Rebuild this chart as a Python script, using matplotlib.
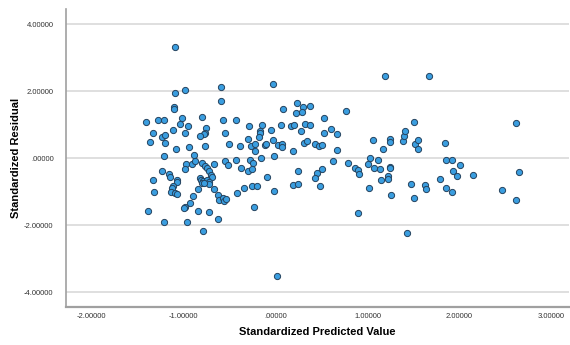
import numpy as np
import matplotlib
matplotlib.use("Agg")
from matplotlib import pyplot as plt

# standardized predicted value (x) and standardized residual (y)
pred = [-1.10, -1.095, -0.985, -1.105, -1.105, -1.41, -1.28, -1.21, -1.015, -1.04,
        -0.95, -1.12, -1.33, -0.99, -1.235, -1.205, -1.37, -1.20, -1.08, -0.94,
        -1.21, -0.98, -0.99, -1.24, -1.16, -1.15, -1.33, -1.07, -1.07, -1.115,
        -1.13, -1.32, -1.135, -1.095, -1.07, -0.935, -0.99, -1.00, -1.39, -1.21,
        -0.96,
        -0.60, -0.03, -0.60, -0.80, -0.575, -0.43, 0.08, 0.235, 0.30, 0.37,
        0.217, 0.283, -0.755, -0.77, -0.776, -0.82, -0.555, -0.287, -0.149, -0.054,
        0.054, 0.17, 0.20, 0.32, 0.37, -0.17, -0.17, -0.305, -0.18, -0.026,
        0.278, -0.51, -0.39, -0.265, -0.22, -0.23, -0.113, -0.105, 0.02, 0.068,
        0.068, 0.19, 0.31, 0.34, -0.765, -0.89, -0.156, -0.018, -0.905, -0.877,
        -0.80, -0.765, -0.67, -0.55, -0.515, -0.43, -0.276, -0.247, -0.374, -0.75,
        -0.73, -0.707, -0.69, -0.30, -0.26, -0.09, 0.245, -0.826, -0.81, -0.79,
        -0.80, -0.75, -0.73, -0.72, -0.78, -0.667, -0.624, -0.613, -0.576, -0.565,
        -0.543, -0.845, -0.90, -0.84, -0.72, -0.63, -0.795, -0.42, -0.35, -0.254,
        -0.207, -0.236, -0.018, 0.185, 0.245, 0.01,
        1.185, 1.663, 0.77, 0.53, 0.60, 0.53, 0.67, 0.424, 0.467, 0.50,
        0.67, 1.06, 1.17, 1.245, 1.24, 1.39, 1.395, 1.41, 1.50, 1.52,
        1.55, 1.55, 0.626, 0.786, 1.03, 1.007, 1.11, 0.86, 0.895, 1.07,
        1.14, 1.24, 1.24, 0.50, 0.91, 1.22, 1.22, 1.145, 0.452, 0.427,
        0.485, 1.014, 1.253, 1.474, 1.51, 1.62, 1.64, 0.898, 1.43,
        2.61, 1.84, 1.85, 1.92, 2.01, 1.93, 1.97, 2.15, 1.79, 1.85,
        1.92, 2.46, 2.65, 2.615]
resid = [3.31, 1.96, 2.03, 1.52, 1.46, 1.08, 1.15, 1.15, 1.20, 1.02,
         0.96, 0.86, 0.755, 0.76, 0.64, 0.69, 0.48, 0.45, 0.28, 0.34,
         0.08, -0.17, -0.32, -0.39, -0.48, -0.55, -0.66, -0.64, -0.70, -0.82,
         -0.88, -1.01, -1.01, -1.04, -1.06, -1.33, -1.44, -1.48, -1.57, -1.91,
         -1.91,
         2.14, 2.21, 1.70, 1.23, 1.13, 1.13, 1.47, 1.64, 1.54, 1.57,
         1.36, 1.37, 0.91, 0.755, 0.72, 0.665, 0.745, 0.97, 1.00, 0.855,
         1.00, 0.97, 1.01, 1.04, 1.00, 0.815, 0.765, 0.585, 0.645, 0.55,
         0.815, 0.42, 0.36, 0.375, 0.43, 0.22, 0.39, 0.435, 0.39, 0.42,
         0.34, 0.22, 0.46, 0.51, 0.36, 0.10, 0.01, 0.08, -0.18, -0.08,
         -0.13, -0.22, -0.18, -0.09, -0.21, -0.06, -0.05, -0.15, -0.30, -0.30,
         -0.38, -0.49, -0.57, -0.37, -0.33, -0.55, -0.38, -0.58, -0.66, -0.67,
         -0.75, -0.65, -0.71, -0.78, -0.73, -0.92, -1.10, -1.24, -1.19, -1.27,
         -1.21, -0.93, -1.13, -1.58, -1.59, -1.82, -2.16, -1.04, -0.88, -0.84,
         -0.82, -1.46, -0.98, -0.79, -0.77, -3.51,
         2.47, 2.47, 1.40, 1.20, 0.88, 0.755, 0.725, 0.435, 0.375, 0.39,
         0.24, 0.555, 0.27, 0.585, 0.50, 0.52, 0.665, 0.82, 1.09, 0.43,
         0.55, 0.28, -0.08, -0.13, 0.02, -0.17, -0.04, -0.30, -0.34, -0.29,
         -0.31, -0.25, -0.28, -0.31, -0.47, -0.53, -0.61, -0.64, -0.43, -0.60,
         -0.84, -0.89, -1.10, -0.77, -1.18, -0.80, -0.92, -1.62, -2.24,
         1.05, 0.45, -0.05, -0.06, -0.20, -0.39, -0.53, -0.51, -0.61, -0.89,
         -1.00, -0.94, -0.42, -1.25]

xticks = [-2, -1, 0, 1, 2, 3]
yticks = [-4, -2, 0, 2, 4]

plt.rcParams['font.family'] = ['Liberation Sans', 'DejaVu Sans']

fig = plt.figure(figsize=(5.7, 3.45), dpi=100)
ax = fig.add_axes([0.116, 0.110, 0.882, 0.864])

ax.set_axisbelow(True)
ax.grid(axis='y', color='#d9d9d9', linewidth=1.2)
ax.scatter(pred, resid, s=20, color='#3a9ee0', edgecolors='#24425e', linewidths=0.7, zorder=3)

ax.set_xlim(-2.28, 3.19)
ax.set_ylim(-4.44, 4.46)
ax.set_xticks(xticks)
ax.set_xticklabels(['%.5f' % v if v != 0 else '.00000' for v in xticks])
ax.set_yticks(yticks)
ax.set_yticklabels(['%.5f' % v if v != 0 else '.00000' for v in yticks])
ax.tick_params(length=0, labelsize=5.5, labelcolor='#333333')
ax.tick_params(axis='x', pad=4)
ax.tick_params(axis='y', pad=9)

for s in ('top', 'right'):
    ax.spines[s].set_visible(False)
ax.spines['left'].set_color('#a0a0a0')
ax.spines['left'].set_linewidth(1.2)
ax.spines['bottom'].set_color('#a0a0a0')
ax.spines['bottom'].set_linewidth(1.6)

ax.set_xlabel('Standardized Predicted Value', fontsize=8, fontweight='bold', labelpad=5)
ax.set_ylabel('Standardized Residual', fontsize=8, fontweight='bold', labelpad=2)

fig.savefig('out.png', dpi=100)
